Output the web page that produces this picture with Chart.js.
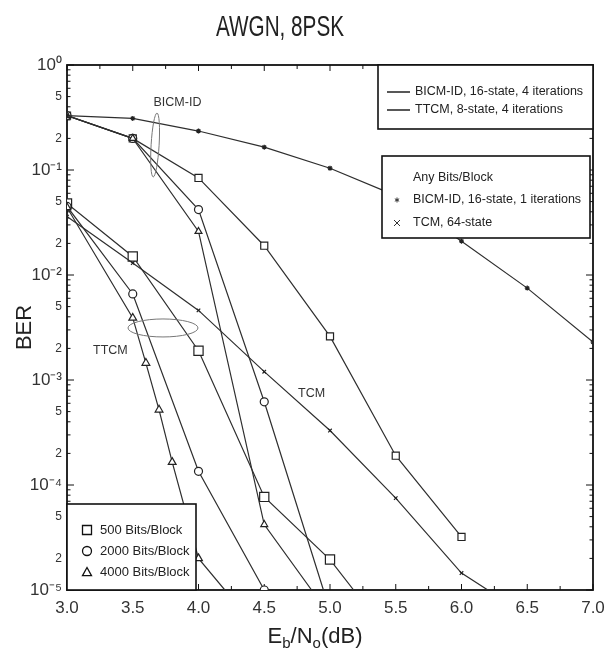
<!DOCTYPE html>
<html>
<head>
<meta charset="utf-8">
<script src="https://cdn.jsdelivr.net/npm/chart.js@4.4.1/dist/chart.umd.min.js"></script>
<style>
  html, body { margin: 0; padding: 0; background: #fff; }
</style>
</head>
<body>
<canvas id="berChart" width="615" height="653"></canvas>
<script>
const NARROW = "'Liberation Sans Narrow', 'Liberation Sans', Arial, sans-serif";
const SANS = "'Liberation Sans', Arial, sans-serif";

// Eb/No (dB) and BER for every curve
const ebnoBicm500 = [3.0, 3.5, 4.0, 4.5, 5.0, 5.5, 6.0];
const berBicm500 = [0.33, 0.2, 0.084, 0.019, 0.0026, 0.00019, 0.000032];

const ebnoBicm2000 = [3.0, 3.5, 4.0, 4.5, 4.95];
const berBicm2000 = [0.33, 0.2, 0.042, 0.00062, 0.00001];

const ebnoBicm4000 = [3.0, 3.5, 4.0, 4.5, 4.86];
const berBicm4000 = [0.33, 0.2, 0.026, 0.000042, 0.00001];

const ebnoTtcm500 = [3.0, 3.5, 4.0, 4.5, 5.0, 5.18];
const berTtcm500 = [0.048, 0.015, 0.0019, 0.000077, 0.0000195, 0.00001];

const ebnoTtcm2000 = [3.0, 3.5, 4.0, 4.5];
const berTtcm2000 = [0.045, 0.0066, 0.000135, 0.00001];

const ebnoTtcm4000 = [3.0, 3.5, 3.6, 3.7, 3.8, 4.0, 4.2];
const berTtcm4000 = [0.044, 0.0039, 0.00145, 0.00052, 0.000165, 0.00002, 0.00001];

const ebnoBicm1 = [3.0, 3.5, 4.0, 4.5, 5.0, 5.5, 6.0, 6.5, 7.0];
const berBicm1 = [0.33, 0.31, 0.235, 0.165, 0.104, 0.057, 0.021, 0.0075, 0.0023];

const ebnoTcm = [3.0, 3.5, 4.0, 4.5, 5.0, 5.5, 6.0, 6.2];
const berTcm = [0.036, 0.013, 0.0046, 0.0012, 0.00033, 0.000075, 0.0000145, 0.00001];

// axis ticks
const xTickValues = [3.0, 3.5, 4.0, 4.5, 5.0, 5.5, 6.0, 6.5, 7.0];
const yDecadeExps = [-5, -4, -3, -2, -1, 0];
const yLabelledMantissas = [2, 5];

// legend / annotation text
const legendLines = ['BICM-ID, 16-state, 4 iterations', 'TTCM, 8-state, 4 iterations'];
const legendAnyTitle = 'Any Bits/Block';
const legendAny = ['BICM-ID, 16-state, 1 iterations', 'TCM, 64-state'];
const legendBlocks = ['500 Bits/Block', '2000 Bits/Block', '4000 Bits/Block'];

const SUP = { '-': '\u207B', '0': '\u2070', '1': '\u00B9', '2': '\u00B2', '3': '\u00B3', '4': '\u2074', '5': '\u2075' };

// build the log ticks (1..9 x 10^n) and their labels
const yTickValues = [];
const yTickLabels = [];
yDecadeExps.forEach(e => {
  const last = e === 0 ? 1 : 9;
  for (let m = 1; m <= last; m++) {
    yTickValues.push(parseFloat(m + 'e' + e));
    if (m === 1) {
      yTickLabels.push('10' + String(e).split('').map(c => SUP[c]).join(''));
    } else if (yLabelledMantissas.includes(m)) {
      yTickLabels.push(String(m));
    } else {
      yTickLabels.push('');
    }
  }
});

const toPoints = (xs, ys) => xs.map((v, i) => ({ x: v, y: ys[i] }));

const LINE = '#2e2e2e';

// last point of some curves is just where the line leaves the axes, no marker there
const makeSet = (label, xs, ys, style, radius, endMarker) => ({
  label: label,
  data: toPoints(xs, ys),
  borderColor: LINE,
  borderWidth: 1.2,
  pointStyle: style,
  pointRadius: ctx => (!endMarker && ctx.dataIndex === xs.length - 1) ? 0 : radius,
  pointBackgroundColor: '#fff',
  pointBorderColor: '#222',
  pointBorderWidth: 1.2,
  tension: 0,
  fill: false
});

const datasets = [
  makeSet('BICM-ID 1 it', ebnoBicm1, berBicm1, 'star', 2.5, true),
  makeSet('TCM', ebnoTcm, berTcm, 'crossRot', 2.5, false),
  makeSet('TTCM 4000', ebnoTtcm4000, berTtcm4000, 'triangle', 4.5, false),
  makeSet('TTCM 2000', ebnoTtcm2000, berTtcm2000, 'circle', 4, true),
  makeSet('TTCM 500', ebnoTtcm500, berTtcm500, 'rect', 6.5, false),
  makeSet('BICM 4000', ebnoBicm4000, berBicm4000, 'triangle', 4, false),
  makeSet('BICM 2000', ebnoBicm2000, berBicm2000, 'circle', 4, false),
  makeSet('BICM 500', ebnoBicm500, berBicm500, 'rect', 5, true)
];

// annotation ellipses and labels (centre in data units, radii in px)
const ellipses = [
  { x: 3.67, y: 0.173, rx: 4, ry: 32, rot: 0.06 },
  { x: 3.73, y: 0.00313, rx: 35, ry: 9, rot: 0 }
];
const notes = [
  { text: 'BICM-ID', x: 3.84, y: 0.44 },
  { text: 'TTCM', x: 3.33, y: 0.00189 },
  { text: 'TCM', x: 4.86, y: 0.00074 }
];

function marker(ctx, style, cx, cy, r) {
  ctx.beginPath();
  if (style === 'rect') {
    ctx.rect(cx - r, cy - r, 2 * r, 2 * r);
    ctx.fillStyle = '#fff'; ctx.fill(); ctx.stroke();
  } else if (style === 'circle') {
    ctx.arc(cx, cy, r, 0, Math.PI * 2);
    ctx.fillStyle = '#fff'; ctx.fill(); ctx.stroke();
  } else if (style === 'triangle') {
    ctx.moveTo(cx, cy - r);
    ctx.lineTo(cx + r, cy + r * 0.8);
    ctx.lineTo(cx - r, cy + r * 0.8);
    ctx.closePath();
    ctx.fillStyle = '#fff'; ctx.fill(); ctx.stroke();
  } else if (style === 'cross') {
    ctx.moveTo(cx - r, cy - r); ctx.lineTo(cx + r, cy + r);
    ctx.moveTo(cx + r, cy - r); ctx.lineTo(cx - r, cy + r);
    ctx.stroke();
  } else if (style === 'star') {
    for (let k = 0; k < 3; k++) {
      const a = k * Math.PI / 3 + Math.PI / 2;
      ctx.moveTo(cx + r * Math.cos(a), cy + r * Math.sin(a));
      ctx.lineTo(cx - r * Math.cos(a), cy - r * Math.sin(a));
    }
    ctx.stroke();
  }
}

const framePlugin = {
  id: 'frame',
  beforeDatasetsDraw(chart) {
    const { ctx, chartArea: a, scales: { x, y } } = chart;
    ctx.save();
    ctx.strokeStyle = '#111';
    ctx.lineWidth = 1;
    ctx.beginPath();
    // inward x ticks every 0.25
    for (let i = 0; i < xTickValues.length; i++) {
      const px = x.getPixelForValue(xTickValues[i]);
      ctx.moveTo(px, a.bottom); ctx.lineTo(px, a.bottom - 6);
      ctx.moveTo(px, a.top); ctx.lineTo(px, a.top + 6);
      if (i < xTickValues.length - 1) {
        const pm = x.getPixelForValue((xTickValues[i] + xTickValues[i + 1]) / 2);
        ctx.moveTo(pm, a.bottom); ctx.lineTo(pm, a.bottom - 4);
        ctx.moveTo(pm, a.top); ctx.lineTo(pm, a.top + 4);
      }
    }
    // inward y ticks
    yTickValues.forEach((v, i) => {
      const py = y.getPixelForValue(v);
      const len = yTickLabels[i].startsWith('10') ? 7 : 3.5;
      ctx.moveTo(a.left, py); ctx.lineTo(a.left + len, py);
      ctx.moveTo(a.right, py); ctx.lineTo(a.right - len, py);
    });
    ctx.stroke();
    ctx.lineWidth = 1.8;
    ctx.strokeRect(a.left, a.top, a.right - a.left, a.bottom - a.top);
    ctx.restore();
  },
  afterDatasetsDraw(chart) {
    const { ctx, chartArea: a, scales: { x, y } } = chart;
    ctx.save();

    // ellipses + labels
    ctx.strokeStyle = '#777';
    ctx.lineWidth = 1;
    ellipses.forEach(e => {
      ctx.beginPath();
      ctx.ellipse(x.getPixelForValue(e.x), y.getPixelForValue(e.y), e.rx, e.ry, e.rot, 0, Math.PI * 2);
      ctx.stroke();
    });
    ctx.fillStyle = '#333';
    ctx.font = '12.5px ' + NARROW;
    ctx.textAlign = 'center';
    ctx.textBaseline = 'middle';
    notes.forEach(n => ctx.fillText(n.text, x.getPixelForValue(n.x), y.getPixelForValue(n.y)));

    ctx.textAlign = 'left';
    ctx.strokeStyle = '#111';
    ctx.lineWidth = 1.6;

    // legend 1: line styles
    let bx = a.right - 215, by = a.top;
    ctx.fillStyle = '#fff';
    ctx.fillRect(bx, by, 215, 64);
    ctx.strokeRect(bx, by, 215, 64);
    ctx.font = '12.5px ' + NARROW;
    legendLines.forEach((t, i) => {
      const ly = by + 27 + i * 18;
      ctx.beginPath();
      ctx.lineWidth = 1.4;
      ctx.moveTo(bx + 9, ly); ctx.lineTo(bx + 32, ly);
      ctx.stroke();
      ctx.fillStyle = '#222';
      ctx.fillText(t, bx + 37, ly);
    });

    // legend 2: any bits/block
    bx = a.right - 211; by = a.top + 91;
    ctx.lineWidth = 1.6;
    ctx.fillStyle = '#fff';
    ctx.fillRect(bx, by, 208, 82);
    ctx.strokeRect(bx, by, 208, 82);
    ctx.fillStyle = '#222';
    ctx.fillText(legendAnyTitle, bx + 31, by + 22);
    ctx.lineWidth = 1;
    ctx.strokeStyle = '#333';
    legendAny.forEach((t, i) => {
      const ly = by + 44 + i * 23;
      marker(ctx, i === 0 ? 'star' : 'cross', bx + 15, ly, i === 0 ? 2.5 : 3);
      ctx.fillStyle = '#222';
      ctx.fillText(t, bx + 31, ly);
    });

    // legend 3: block sizes (bottom left)
    bx = a.left; by = a.bottom - 86;
    ctx.strokeStyle = '#111';
    ctx.lineWidth = 1.6;
    ctx.fillStyle = '#fff';
    ctx.fillRect(bx, by, 129, 86);
    ctx.strokeRect(bx, by, 129, 86);
    ctx.font = '13px ' + NARROW;
    ['rect', 'circle', 'triangle'].forEach((s, i) => {
      const ly = by + 26 + i * 21;
      ctx.lineWidth = 1.3;
      ctx.strokeStyle = '#111';
      marker(ctx, s, bx + 20, ly, 4.5);
      ctx.fillStyle = '#222';
      ctx.fillText(legendBlocks[i], bx + 33, ly);
    });
    ctx.restore();
  },
  afterDraw(chart) {
    const { ctx } = chart;
    ctx.save();
    ctx.fillStyle = '#222';
    ctx.textBaseline = 'alphabetic';
    // title, horizontally condensed like the scan
    ctx.font = '30px ' + NARROW;
    ctx.textAlign = 'center';
    ctx.translate(280, 36);
    ctx.scale(0.69, 1);
    ctx.fillText('AWGN, 8PSK', 0, 0);
    ctx.restore();

    // x axis title with subscripts: Eb/No(dB)
    ctx.save();
    ctx.fillStyle = '#222';
    ctx.textAlign = 'left';
    ctx.textBaseline = 'alphabetic';
    const parts = [['E', 22, 0], ['b', 15, 5], ['/N', 22, 0], ['o', 15, 5], ['(dB)', 22, 0]];
    let total = 0;
    parts.forEach(p => { ctx.font = p[1] + 'px ' + NARROW; total += ctx.measureText(p[0]).width; });
    let cx = 315 - total / 2;
    const base = 643;
    parts.forEach(p => {
      ctx.font = p[1] + 'px ' + NARROW;
      ctx.fillText(p[0], cx, base + p[2]);
      cx += ctx.measureText(p[0]).width;
    });
    ctx.restore();
  }
};

new Chart(document.getElementById('berChart'), {
  type: 'line',
  data: { datasets: datasets },
  options: {
    responsive: false,
    animation: false,
    layout: { padding: { top: 65, right: 22, left: 0, bottom: 0 } },
    plugins: {
      legend: { display: false },
      tooltip: { enabled: false }
    },
    scales: {
      x: {
        type: 'linear',
        min: 3,
        max: 7,
        afterFit: s => { s.height = 63; },
        afterBuildTicks: s => { s.ticks = xTickValues.map(v => ({ value: v })); },
        ticks: {
          callback: v => Number(v).toFixed(1),
          font: { family: NARROW, size: 17 },
          color: '#333',
          padding: 8,
          maxRotation: 0,
          autoSkip: false
        },
        grid: { display: false, drawTicks: false },
        border: { display: false }
      },
      y: {
        type: 'logarithmic',
        min: 1e-5,
        max: 1,
        afterFit: s => { s.width = 67; },
        afterBuildTicks: s => { s.ticks = yTickValues.map(v => ({ value: v })); },
        ticks: {
          callback: (v, i) => yTickLabels[i],
          font: ctx => (yTickLabels[ctx.index] || '').startsWith('10')
            ? { family: NARROW, size: 17 }
            : { family: NARROW, size: 12 },
          color: '#333',
          padding: 5,
          autoSkip: false
        },
        grid: { display: false, drawTicks: false },
        border: { display: false },
        title: {
          display: true,
          text: 'BER',
          font: { family: SANS, size: 22 },
          color: '#222',
          padding: { top: 12, bottom: 0 }
        }
      }
    }
  },
  plugins: [framePlugin]
});
</script>
</body>
</html>
